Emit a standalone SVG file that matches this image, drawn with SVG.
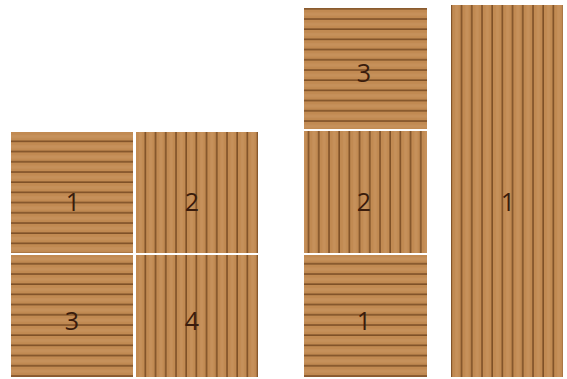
<svg xmlns="http://www.w3.org/2000/svg" width="567" height="379" viewBox="0 0 567 379">
<style>
.num{font-family:"Open Sans","Liberation Sans",sans-serif;font-size:25px;fill:#3a1c0c;text-anchor:middle;dominant-baseline:central}
.h{fill:url(#ph)}
.v{fill:url(#pv)}
</style>
<defs>
<pattern id="ph" patternUnits="userSpaceOnUse" width="20" height="10.2" y="132">
<rect width="20" height="10.2" fill="#c18a52"/>
<rect y="3" width="20" height="3" fill="#c99660" opacity="0.6"/>
<rect y="8.6" width="20" height="1.6" fill="#7e5027"/>
</pattern>
<pattern id="pv" patternUnits="userSpaceOnUse" width="10.2" height="20" x="136">
<rect width="10.2" height="20" fill="#c18a52"/>
<rect x="3" width="3" height="20" fill="#c99660" opacity="0.6"/>
<rect x="8.6" width="1.6" height="20" fill="#7e5027"/>
</pattern>
</defs>
<rect width="567" height="379" fill="#ffffff"/>
<g id="tile-left-1"><rect class="h" x="11" y="132" width="122" height="121"/><text class="num" x="73" y="201">1</text></g>
<g id="tile-left-2"><rect class="v" x="136" y="132" width="122" height="121"/><text class="num" x="192" y="201">2</text></g>
<g id="tile-left-3"><rect class="h" x="11" y="255" width="122" height="122"/><text class="num" x="72" y="320">3</text></g>
<g id="tile-left-4"><rect class="v" x="136" y="255" width="122" height="122"/><text class="num" x="192" y="320">4</text></g>
<g id="tile-mid-3"><rect class="h" x="304" y="8" width="123" height="121"/><text class="num" x="364" y="72">3</text></g>
<g id="tile-mid-2"><rect class="v" x="304" y="131" width="123" height="122"/><text class="num" x="364" y="201">2</text></g>
<g id="tile-mid-1"><rect class="h" x="304" y="255" width="123" height="122"/><text class="num" x="364" y="320">1</text></g>
<g id="tile-right-1"><rect class="v" x="451" y="5" width="112" height="372"/><text class="num" x="508" y="201">1</text></g>
<g id="connectors"></g>
</svg>
